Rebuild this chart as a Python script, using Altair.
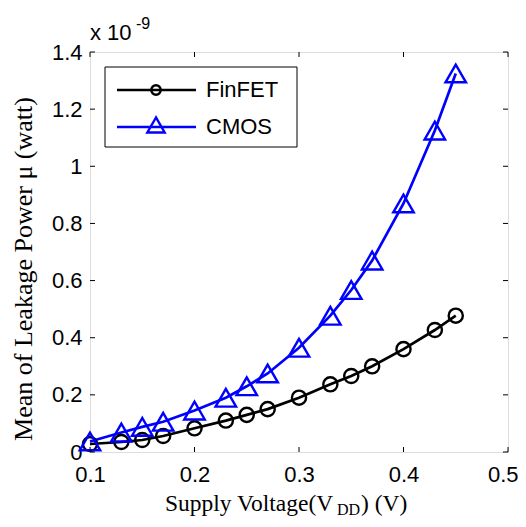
import altair as alt
import pandas as pd

# ---- data (units of 1e-9 W) ----
vdd = [0.10, 0.13, 0.15, 0.17, 0.20, 0.23, 0.25, 0.27, 0.30, 0.33, 0.35, 0.37, 0.40, 0.43, 0.45]
finfet = [0.028, 0.035, 0.042, 0.056, 0.083, 0.11, 0.13, 0.15, 0.19, 0.237, 0.266, 0.30, 0.36, 0.427, 0.477]
cmos = [0.037, 0.068, 0.088, 0.106, 0.145, 0.19, 0.23, 0.275, 0.365, 0.477, 0.567, 0.67, 0.87, 1.125, 1.325]
x_ticks = [0.1, 0.2, 0.3, 0.4, 0.5]
y_ticks = [0, 0.2, 0.4, 0.6, 0.8, 1, 1.2, 1.4]

W, H = 418, 400
BLUE = "#0000ff"

df_f = pd.DataFrame({"v": vdd, "p": finfet})
df_c = pd.DataFrame({"v": vdd, "p": cmos})

xs = alt.Scale(domain=[0.1, 0.5], nice=False, zero=False)
ys = alt.Scale(domain=[0, 1.4], nice=False, zero=False)

tick_font = "Liberation Sans"
serif = "Liberation Serif"

base_x = alt.X("v:Q", scale=xs, axis=alt.Axis(
    values=x_ticks, ticks=False, domain=False, grid=False,
    labelFont=tick_font, labelFontSize=22, labelColor="black", labelPadding=12,
    labelExpr="'' + datum.value", title=None, labelFlush=False,
    labelAlign=alt.condition("datum.value >= 0.5", alt.value("right"), alt.value("center")),
    labelOffset=alt.condition("datum.value >= 0.5", alt.value(10), alt.value(0)),
))
base_y = alt.Y("p:Q", scale=ys, axis=alt.Axis(
    values=y_ticks, ticks=False, domain=False, grid=False,
    labelFont=tick_font, labelFontSize=22, labelColor="black", labelPadding=8,
    labelExpr="'' + datum.value", title=None, labelFlush=False))

line_f = alt.Chart(df_f).mark_line(color="black", strokeWidth=2.7).encode(x=base_x, y=base_y)
pts_f = alt.Chart(df_f).mark_point(shape="circle", size=200, filled=False, color="black",
                                   strokeWidth=2.4, opacity=1).encode(x="v:Q", y="p:Q")
line_c = alt.Chart(df_c).mark_line(color=BLUE, strokeWidth=2.7).encode(x="v:Q", y="p:Q")
pts_c = alt.Chart(df_c).mark_point(shape="triangle-up", size=420, filled=False, color=BLUE,
                                   strokeWidth=2.4, opacity=1).encode(x="v:Q", y="p:Q")

# inside ticks (MATLAB style, mirrored)
xt = pd.DataFrame({"t": x_ticks})
yt = pd.DataFrame({"t": y_ticks})
tk = dict(color="black", strokeWidth=1)
xb = alt.Chart(xt).mark_rule(**tk).encode(x=alt.X("t:Q", scale=xs), y=alt.value(H), y2=alt.value(H - 5))
xtop = alt.Chart(xt).mark_rule(**tk).encode(x=alt.X("t:Q", scale=xs), y=alt.value(0), y2=alt.value(5))
yl = alt.Chart(yt).mark_rule(**tk).encode(y=alt.Y("t:Q", scale=ys), x=alt.value(0), x2=alt.value(5))
yr = alt.Chart(yt).mark_rule(**tk).encode(y=alt.Y("t:Q", scale=ys), x=alt.value(W), x2=alt.value(W - 5))

one = pd.DataFrame({"a": [0]})

# legend box
LY1, LY2 = 38, 75
leg_box = alt.Chart(one).mark_rect(fill="white", stroke="black", strokeWidth=1).encode(
    x=alt.value(15), x2=alt.value(207), y=alt.value(15), y2=alt.value(95))
leg_line_f = alt.Chart(one).mark_rule(color="black", strokeWidth=2.7).encode(
    x=alt.value(27), x2=alt.value(106), y=alt.value(LY1))
leg_line_c = alt.Chart(one).mark_rule(color=BLUE, strokeWidth=2.7).encode(
    x=alt.value(27), x2=alt.value(106), y=alt.value(LY2))
leg_pt_f = alt.Chart(one).mark_point(shape="circle", size=90, filled=False, color="black",
                                     strokeWidth=2.4, opacity=1).encode(x=alt.value(66), y=alt.value(LY1))
leg_pt_c = alt.Chart(one).mark_point(shape="triangle-up", size=300, filled=False, color=BLUE,
                                     strokeWidth=2.4, opacity=1).encode(x=alt.value(66), y=alt.value(LY2 - 2))
leg_txt_f = alt.Chart(one).mark_text(text="FinFET", font=tick_font, fontSize=22, align="left",
                                     baseline="middle", color="black").encode(x=alt.value(116), y=alt.value(LY1))
leg_txt_c = alt.Chart(one).mark_text(text="CMOS", font=tick_font, fontSize=22, align="left",
                                     baseline="middle", color="black").encode(x=alt.value(116), y=alt.value(LY2))


def txt(text, x, y, size, font, **kw):
    return alt.Chart(one).mark_text(text=text, font=font, fontSize=size, color="black", **kw).encode(
        x=alt.value(x), y=alt.value(y))

# x title with subscript
xt1 = txt("Supply Voltage(V", 75, 459, 23.5, serif, align="left", baseline="alphabetic")
xt2 = txt("DD", 247, 463, 16, serif, align="left", baseline="alphabetic")
xt3 = txt(") (V)", 271, 459, 23.5, serif, align="left", baseline="alphabetic")
# y title
yt_title = txt("Mean of Leakage Power \u03bc (watt)", -66, 217, 26, serif, align="center", baseline="middle", angle=270)
# exponent
ex1 = txt("x 10", 0, -12, 22, tick_font, align="left", baseline="alphabetic")
ex2 = txt("-9", 46, -23, 16, tick_font, align="left", baseline="alphabetic")

chart = alt.layer(
    line_f, line_c, pts_f, pts_c, xb, xtop, yl, yr,
    leg_box, leg_line_f, leg_line_c, leg_pt_f, leg_pt_c, leg_txt_f, leg_txt_c,
    xt1, xt2, xt3, yt_title, ex1, ex2,
).properties(
    width=W, height=H,
    autosize=alt.AutoSizeParams(type="none"),
    padding={"left": 82, "top": 44, "right": 10, "bottom": 67},
).configure_view(stroke="black", strokeWidth=1).configure(background="white")

chart.save("out.html", embed_options={"renderer": "svg", "actions": False})
